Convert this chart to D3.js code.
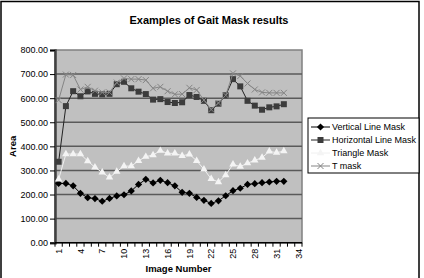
<!DOCTYPE html>
<html>
<head>
<meta charset="utf-8">
<script src="https://cdn.jsdelivr.net/npm/d3@7"></script>
<style>
  body { margin: 0; background: #fff; }
  text { font-family: "Liberation Sans", Arial, sans-serif; }
</style>
</head>
<body>
<svg width="424" height="278"></svg>
<script>
// image numbers on the category axis
const categories = d3.range(1, 35);
const imageNumbers = d3.range(1, 33);

// area values
const verticalLine = [246, 246, 236, 205, 187, 183, 172, 184, 194, 199, 215, 242, 263, 248, 259, 249,
  236, 209, 205, 188, 176, 163, 174, 195, 216, 226, 242, 245, 249, 252, 255, 255];
const horizontalLine = [336, 567, 629, 608, 628, 618, 616, 618, 658, 668, 641, 627, 617, 594, 596, 584,
  580, 583, 613, 605, 589, 550, 577, 612, 679, 649, 589, 569, 552, 562, 566, 575];
const triangle = [263, 368, 368, 368, 339, 313, 292, 271, 295, 318, 318, 340, 357, 364, 382, 371,
  371, 361, 367, 340, 305, 265, 252, 281, 325, 316, 330, 342, 353, 379, 374, 380];
const tMask = [592, 698, 696, 636, 647, 631, 624, 624, 665, 682, 679, 679, 675, 641, 647, 629,
  616, 617, 643, 634, 592, 553, 580, 612, 703, 692, 661, 636, 624, 622, 622, 622];

const seriesNames = ['Vertical Line Mask', 'Horizontal Line Mask', 'Triangle Mask', 'T mask'];
const yTicks = d3.range(0, 801, 100);

const series = [
  {name: seriesNames[0], values: verticalLine, line: '#000', fill: '#000', marker: 'diamond'},
  {name: seriesNames[1], values: horizontalLine, line: '#222', fill: '#3c3c3c', marker: 'square'},
  {name: seriesNames[2], values: triangle, line: '#f0f0f0', fill: '#f4f4f4', marker: 'triangle'},
  {name: seriesNames[3], values: tMask, line: '#858585', fill: '#858585', marker: 'cross'}
];

const $svg = d3.select('svg');

// outer frame
$svg.append('rect')
  .attr('x', 1).attr('y', 1.5).attr('width', 418).attr('height', 290)
  .attr('fill', 'none').attr('stroke', '#000').attr('stroke-width', 1.5);

const plot = {left: 55, right: 302, top: 50, bottom: 242.7};

const x = d3.scaleBand().domain(categories).range([plot.left, plot.right]).padding(0);
const y = d3.scaleLinear().domain([0, 800]).range([plot.bottom, plot.top]);
const cx = (i) => x(i) + x.bandwidth() / 2;

// plot background
$svg.append('rect')
  .attr('x', plot.left).attr('y', plot.top)
  .attr('width', plot.right - plot.left).attr('height', plot.bottom - plot.top)
  .attr('fill', '#c0c0c0').attr('stroke', '#808080').attr('stroke-width', 1.5);

// gridlines
$svg.append('g').selectAll('line')
  .data(yTicks.filter((d) => d > 0 && d < 800))
  .join('line')
  .attr('x1', plot.left).attr('x2', plot.right)
  .attr('y1', (d) => y(d)).attr('y2', (d) => y(d))
  .attr('stroke', '#5a5a5a').attr('stroke-width', 1.5);

// y axis
const yAxis = $svg.append('g')
  .attr('transform', `translate(${plot.left},0)`)
  .call(d3.axisLeft(y).tickValues(yTicks).tickFormat(d3.format('.2f')).tickSize(5).tickPadding(2));
yAxis.select('.domain').attr('stroke', '#404040').attr('stroke-width', 2.5);
yAxis.selectAll('.tick line').attr('stroke', '#000');
yAxis.selectAll('text').attr('font-size', 9).attr('fill', '#000')
  .style('font-family', '"Liberation Sans", Arial, sans-serif');

// x axis: ticks on band edges, labels every third category
const xg = $svg.append('g');
xg.append('line')
  .attr('x1', plot.left).attr('x2', plot.right)
  .attr('y1', plot.bottom).attr('y2', plot.bottom)
  .attr('stroke', '#000').attr('stroke-width', 1.5);
xg.selectAll('line.tick')
  .data(d3.range(0, categories.length + 1))
  .join('line').attr('class', 'tick')
  .attr('x1', (i) => plot.left + i * x.bandwidth())
  .attr('x2', (i) => plot.left + i * x.bandwidth())
  .attr('y1', plot.bottom).attr('y2', plot.bottom + 4)
  .attr('stroke', '#000');
xg.selectAll('text')
  .data(categories.filter((d) => (d - 1) % 3 === 0))
  .join('text')
  .attr('transform', (d) => `translate(${cx(d) + 3.2},${plot.bottom + 6}) rotate(-90)`)
  .attr('text-anchor', 'end')
  .attr('font-size', 9)
  .text((d) => d);

// axis titles
$svg.append('text')
  .attr('x', (plot.left + plot.right) / 2).attr('y', 272)
  .attr('text-anchor', 'middle').attr('font-size', 9.5).attr('font-weight', 'bold')
  .text('Image Number');
$svg.append('text')
  .attr('transform', `translate(16,${(plot.top + plot.bottom) / 2}) rotate(-90)`)
  .attr('text-anchor', 'middle').attr('font-size', 9.5).attr('font-weight', 'bold')
  .text('Area');

// title
$svg.append('text')
  .attr('x', 209).attr('y', 24)
  .attr('text-anchor', 'middle').attr('font-size', 11).attr('font-weight', 'bold')
  .text('Examples of Gait Mask results');

// marker drawing
function drawMarker(sel, s) {
  if (s.marker === 'diamond') {
    sel.append('path').attr('d', 'M0,-3.6L3.6,0L0,3.6L-3.6,0Z').attr('fill', s.fill);
  } else if (s.marker === 'square') {
    sel.append('rect').attr('x', -3).attr('y', -3).attr('width', 6).attr('height', 6).attr('fill', s.fill);
  } else if (s.marker === 'triangle') {
    sel.append('path').attr('d', d3.symbol(d3.symbolTriangle, 24)()).attr('fill', s.fill);
  } else {
    sel.append('path').attr('d', 'M-3,-3L3,3M-3,3L3,-3').attr('stroke', s.fill).attr('stroke-width', 1);
  }
}

const line = d3.line().x((d, i) => cx(imageNumbers[i])).y((d) => y(d));

series.forEach((s) => {
  const g = $svg.append('g');
  g.append('path').attr('d', line(s.values))
    .attr('fill', 'none').attr('stroke', s.line).attr('stroke-width', 1);
  s.values.forEach((v, i) => {
    const m = g.append('g').attr('transform', `translate(${cx(imageNumbers[i])},${y(v)})`);
    drawMarker(m, s);
  });
});

// legend
const legend = $svg.append('g');
legend.append('rect')
  .attr('x', 308).attr('y', 118).attr('width', 111).attr('height', 55)
  .attr('fill', '#fff').attr('stroke', '#000').attr('stroke-width', 1);
series.forEach((s, i) => {
  const ly = 127 + i * 13;
  legend.append('line').attr('x1', 311).attr('x2', 330).attr('y1', ly).attr('y2', ly)
    .attr('stroke', s.line).attr('stroke-width', 1);
  drawMarker(legend.append('g').attr('transform', `translate(320.5,${ly})`), s);
  legend.append('text').attr('x', 332).attr('y', ly + 3.3)
    .attr('font-size', 9).text(s.name);
});
</script>
</body>
</html>
